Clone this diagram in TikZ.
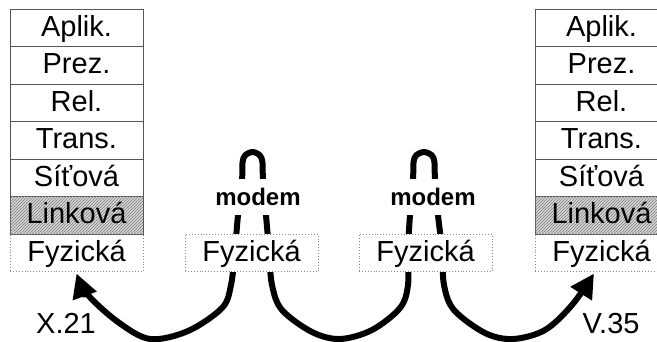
\documentclass[tikz,border=0pt]{standalone}
\usepackage{fontspec}
\setmainfont{Liberation Sans}
\usetikzlibrary{arrows.meta,patterns,calc}
\pgfdeclarelayer{bg}
\pgfsetlayers{bg,main}
\definecolor{edge}{HTML}{555555}
\definecolor{hatchfill}{HTML}{D6D6D6}
\definecolor{dotcol}{HTML}{888888}
\begin{document}
\begin{tikzpicture}[x=1pt,y=-1pt,
  layer/.style={draw=edge, line width=0.9pt, minimum width=133pt, minimum height=37.5pt, inner sep=0pt,
    text height=21pt, text depth=4pt, font=\fontsize{29pt}{30pt}\selectfont, fill=white},
  phys/.style={layer, draw=dotcol, dotted},
  hatched/.style={layer, fill=hatchfill, postaction={pattern=north east lines, pattern color=gray}},
  modemlbl/.style={fill=white, inner xsep=2pt, inner ysep=0pt, minimum height=36pt,
    font=\bfseries\fontsize{24pt}{25pt}\selectfont, text height=17pt, text depth=1pt},
  lbl/.style={font=\fontsize{29pt}{30pt}\selectfont, inner sep=0pt},
  wire/.style={line width=6pt, line cap=round, line join=round}
]
\useasboundingbox (0,0) rectangle (657,341);
\clip (0,0) rectangle (657,341);
% left stack
\node[layer] (L1) at (76.5,27.75) {Aplik.};
\node[layer] (L2) at (76.5,65.25) {Prez.};
\node[layer] (L3) at (76.5,102.75) {Rel.};
\node[layer] (L4) at (76.5,140.25) {Trans.};
\node[layer] (L5) at (76.5,177.75) {Síťová};
\node[phys] (L7) at (76.5,252.75) {Fyzická};
\node[hatched] (L6) at (76.5,215.25) {Linková};
% right stack
\node[layer] (R1) at (601.5,27.75) {Aplik.};
\node[layer] (R2) at (601.5,65.25) {Prez.};
\node[layer] (R3) at (601.5,102.75) {Rel.};
\node[layer] (R4) at (601.5,140.25) {Trans.};
\node[layer] (R5) at (601.5,177.75) {Síťová};
\node[phys] (R7) at (601.5,252.75) {Fyzická};
\node[hatched] (R6) at (601.5,215.25) {Linková};
% middle modems
\node[phys] (M1) at (251.5,253) {Fyzická};
\node[phys] (M2) at (425.5,253) {Fyzická};
\node[modemlbl] (m1) at (258,197) {modem};
\node[modemlbl] (m2) at (433,197) {modem};
% labels
\node[lbl] (x21) at (66,323) {X.21};
\node[lbl] (v35) at (611,324) {V.35};
\coordinate (tipL) at ($(L7.south)+(0,1.5)$);
\coordinate (tipR) at ($(R7.south)+(-7.5,1.5)$);
\begin{pgfonlayer}{bg}
\draw[wire, {Triangle[length=24pt,width=24pt]}-{Triangle[length=24pt,width=24pt]}]
  plot[smooth, tension=0.55] coordinates {
   (tipL) (88,295) (118,322) (150,339) (188,331) (222,308) (231,285) (235,250) (238,215) (242,180)
   (242.5,163) (245,155.5) (252.5,152) (260,155.5) (262.5,163) (263,180) (266,215) (269,250) (272,285)
   (282,310) (312,332) (340,339) (372,330) (400,308) (408,285) (408,250) (410,215) (413,180)
   (413.5,163) (416,155.5) (424,152) (432,155.5) (434.5,163) (435,180) (438,215) (442,250) (444,285)
   (454,310) (485,333) (513,339) (545,330) (572,305) (tipR)};
\end{pgfonlayer}
\end{tikzpicture}
\end{document}
